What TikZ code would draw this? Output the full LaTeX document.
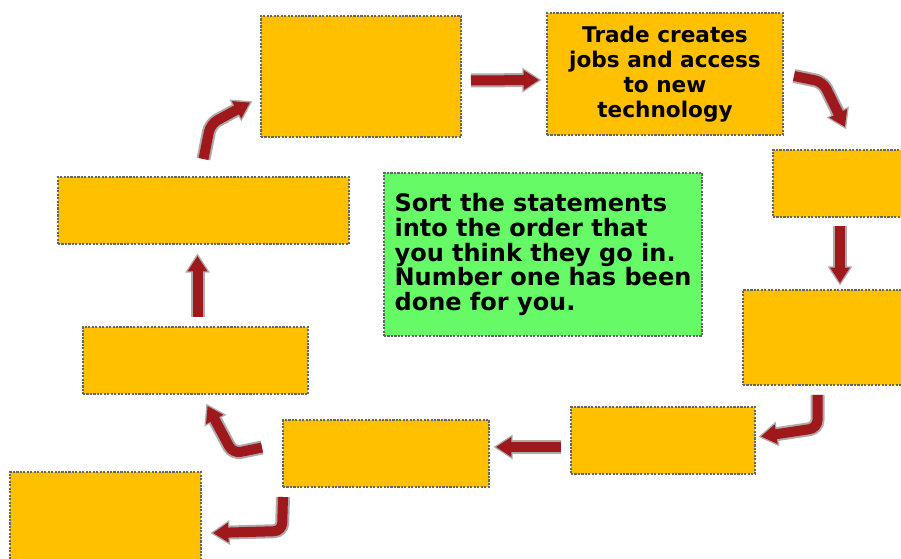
\documentclass[tikz,border=0pt]{standalone}
\usepackage{fontspec}
\setmainfont{DejaVu Sans}
\usetikzlibrary{arrows.meta,calc}

\definecolor{cardorange}{RGB}{255,192,0}
\definecolor{notegreen}{RGB}{102,250,102}
\definecolor{arrowred}{RGB}{158,24,28}
\definecolor{halo}{RGB}{175,170,170}

\begin{document}
\begin{tikzpicture}[x=0.75pt,y=-0.75pt,
    card/.style 2 args={draw=black!60,densely dotted,line width=1.6pt,fill=cardorange,
      minimum width=#1*0.75pt,minimum height=#2*0.75pt,inner sep=0pt,outer sep=0pt,
      font=\bfseries\fontsize{16.2}{18.8}\selectfont},
    flow/.style={arrowred,line width=7.5pt,rounded corners=6pt,
      -{Triangle[length=4pt 1,width=5pt 1.2]},
      preaction={draw=halo,line width=10.5pt,shorten >=-2pt,
        -{Triangle[length=4pt 1,width=5pt 1.2]}}}]
    \useasboundingbox (0,0) rectangle (901,559);
    \node[card={200}{121}] (A) at (361,76.5) {};
    \node[card={236}{122},align=center] (B) at (665,74) {Trade creates\\jobs and access\\to new\\technology};
    \node[card={132}{67}] (C) at (839,183.5) {};
    \node[card={167}{95}] (D) at (826.5,337.5) {};
    \node[card={184}{67}] (E) at (663,440.5) {};
    \node[card={206}{67}] (F) at (386,453.5) {};
    \node[card={191}{98}] (G) at (105.5,521) {};
    \node[card={225}{67}] (H) at (195.5,360.5) {};
    \node[card={291}{67}] (I) at (203.5,210.5) {};
    \node[card={318}{163},fill=notegreen,align=left,font=\bfseries\fontsize{18}{18.6}\selectfont]
      (note) at (543,254.5)
      {Sort the statements\\into the order that\\you think they go in.\\Number one has been\\done for you.};
    % arrows round the cycle
    \draw[flow] ($(A.east)+(10,4)$) -- ($(B.west)+(-8,6)$);
    \draw[flow] ($(B.east)+(11,2)$) -- ($(B.east)+(40,8)$) -- ($(C.north)+(6,-23)$);
    \draw[flow] ($(C.south)+(1,9)$) -- ($(C.south |- D.north)+(1,-7)$);
    \draw[flow] ($(D.south)+(-9,10)$) -- ($(D.south)+(-9,43)$) -- ($(E.east)+(6,-4)$);
    \draw[flow] ($(E.west)+(-10,6.5)$) -- ($(F.east)+(7,-6.5)$);
    \draw[flow] ($(F.south west)+(0,10)$) -- ($(F.south west)+(-1,44)$) -- ($(G.east)+(12,12)$);
    \draw[flow] ($(F.west)+(-21,-6)$) -- ($(F.west)+(-50,0)$) -- ($(H.south)+(12,12)$);
    \draw[flow] ($(H.north)+(2,-10)$) -- ($(H.north |- I.south)+(2,12)$);
    \draw[flow] ($(I.north)+(0,-18)$) -- ($(I.north)+(7,-53)$) -- ($(A.west)+(-11,26)$);
\end{tikzpicture}
\end{document}
